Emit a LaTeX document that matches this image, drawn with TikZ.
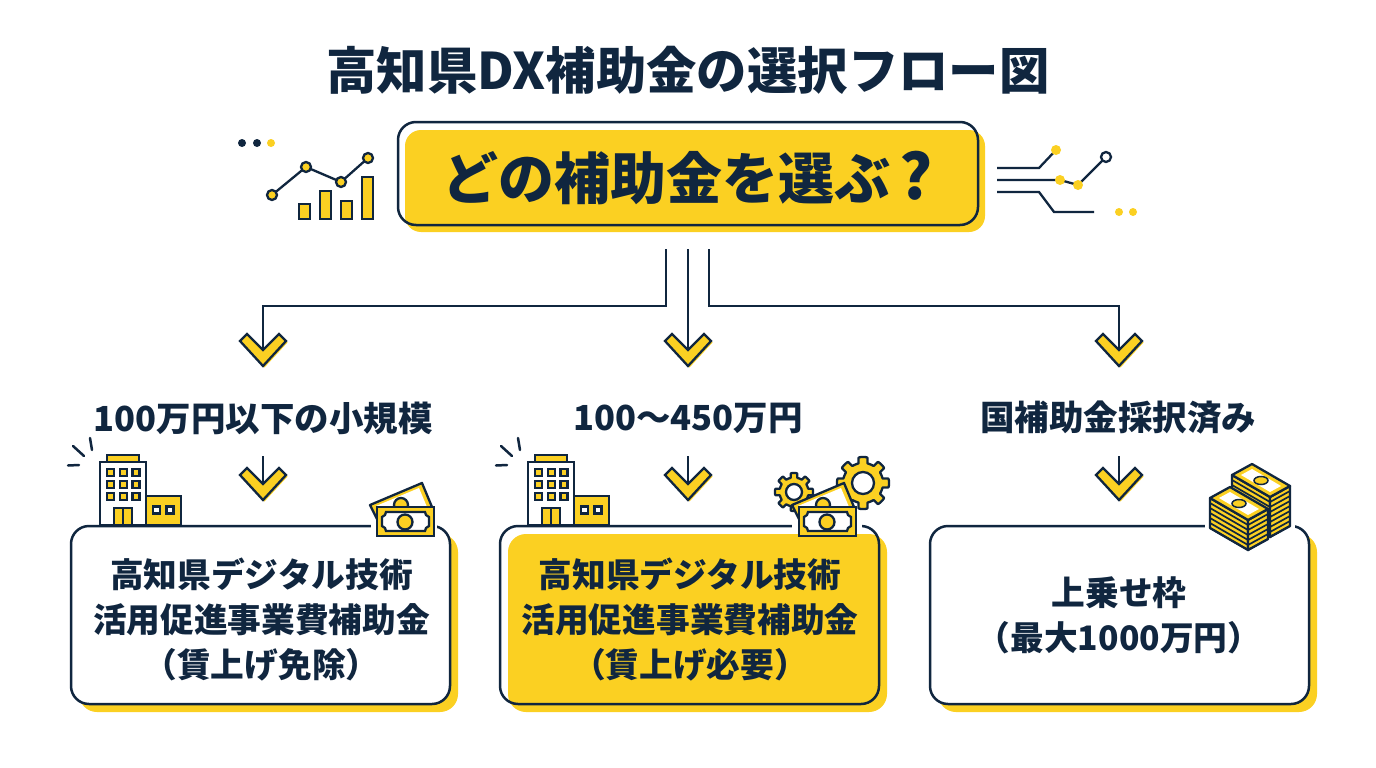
\documentclass[tikz,border=0pt]{standalone}
\usepackage{fontspec}
\setmainfont{Noto Sans CJK JP}
\definecolor{navy}{HTML}{10263F}
\definecolor{gold}{HTML}{FBD022}
\tikzset{
  x=1pt,y=-1pt,
  ink/.style={draw=navy,line width=2.5pt},
  thinink/.style={draw=navy,line width=2.3pt},
  link/.style={draw=navy,line width=2.5pt,line join=miter},
  titletext/.style={text=navy,font=\fontsize{50.4}{56}\selectfont\bfseries,inner sep=0pt},
  mainbox/.style={rounded corners=18pt,draw=navy,line width=2.5pt,minimum width=580pt,minimum height=103pt,inner sep=0pt},
  maintext/.style={text=navy,font=\fontsize{56}{60}\selectfont\bfseries,inner sep=0pt},
  optiontext/.style={text=navy,font=\fontsize{34.5}{40}\selectfont\bfseries,inner sep=0pt},
  cardbox/.style={rounded corners=18pt,draw=navy,line width=2.5pt,minimum width=379pt,minimum height=178pt,inner sep=0pt},
  cardtext/.style={text=navy,font=\fontsize{33.7}{45}\selectfont\bfseries,inner sep=0pt,align=center},
  cardshade/.style={fill=gold,rounded corners=18pt},
  pics/chevronmark/.style={code={
    \fill[gold] (-21,-7.5)--(-14,-14.5)--(1.5,1.5)--(16.5,-14.5)--(24.5,-7.5)--(1.5,17.5)--cycle;
    \draw[thinink,fill=gold,line join=miter] (-23,-9)--(-16,-16)--(0,0)--(16,-16)--(23,-9)--(0,16)--cycle;
  }},
  pics/officeblock/.style={code={
    \draw[thinink,fill=gold] (7,-7) rectangle (39,0);
    \draw[ink,fill=white] (0,0) rectangle (46,63);
    \foreach \cx in {10.7,23.3,36}{\foreach \cy in {10.7,22.7,34.7}{
      \draw[thinink,fill=gold] (\cx-3.5,\cy-3.5) rectangle (\cx+3.5,\cy+3.5);}}
    \draw[thinink,fill=gold] (14,46) rectangle (32,63);
    \draw[thinink] (23,46)--(23,63);
    \draw[ink,fill=gold] (46,34) rectangle (81,63);
    \draw[thinink,fill=white] (53,44.5) rectangle (60,51.5);
    \draw[thinink,fill=white] (66.5,44.5) rectangle (73.5,51.5);
    \draw[ink,line cap=round] (-32,3.5)--(-21,3);
    \draw[ink,line cap=round] (-27,-16)--(-16,-6);
    \draw[ink,line cap=round] (-10,-24)--(-8,-12);
  }},
  pics/banknote/.style={code={
    \draw[thinink,fill=gold,line join=round] (-7,-2)--(45,-24)--(55,0)--(55,12)--(2,16)--cycle;
    \fill[white] (-1,-1)--(42,-19)--(50,0)--(2,10)--cycle;
    \draw[thinink,fill=gold] (24,-2) circle (7);
    \draw[thinink,fill=gold] (0,0) rectangle (57,29);
    \draw[thinink,fill=white] (9,5)--(48,5)--(49,8)--(52,10)--(52,19)--(49,21)--(48,24)--(9,24)--(8,21)--(5,19)--(5,10)--(8,8)--cycle;
    \draw[thinink,fill=gold] (28,15) circle (7.5);
  }},
  pics/moneystack/.style={code={
    \draw[thinink,fill=gold,line join=round] (0,0)--(38,22)--(38,22+#1)--(0,#1)--cycle;
    \draw[thinink,fill=gold,line join=round] (38,22)--(58,11)--(58,11+#1)--(38,22+#1)--cycle;
    \foreach \k in {5,10,...,#1}{
      \draw[navy,line width=1.7pt] (0,\k)--(38,22+\k)--(58,11+\k);
    }
    \draw[thinink,fill=gold,line join=round] (0,0)--(20,-11)--(58,11)--(38,22)--cycle;
    \fill[white] (9,0)--(20,-6)--(49,11)--(38,17)--cycle;
    \draw[navy,line width=1.5pt,fill=gold] (29,5.5) ellipse [x radius=7,y radius=4];
  }},
  pics/gearwheel/.style args={#1/#2/#3}{code={
    \draw[thinink,fill=gold,line join=round] plot[samples=145,domain=0:360] (\x:{#1+#2*min(1,max(0,2.5*cos(8*\x)+0.5))}) -- cycle;
    \draw[thinink,fill=white] (0,0) circle (#3);
  }},
  chartdot/.style={thinink,fill=gold},
}
\begin{document}
\begin{tikzpicture}
\useasboundingbox[fill=white] (0,0) rectangle (1376,768);

% title
\node[titletext] (title) at (688,70) {高知県DX補助金の選択フロー図};

% main box
\fill[gold,rounded corners=16pt] (405,130) rectangle (985,232);
\node[mainbox] (main) at (688,173.5) {};
\node[maintext] (mainlabel) at (687.5,178) {どの補助金を選ぶ\hspace{9pt}{\fontsize{62}{62}\selectfont ?}};

% left chart icon
\fill[navy] (242,143) circle (4) (257,143) circle (4);
\fill[gold] (271,143) circle (4);
\draw[thinink] (272,195)--(306,167)--(341,182)--(368,158);
\foreach \px/\py in {272/195,306/167,341/182,368/158}{\draw[chartdot] (\px,\py) circle (5);}
\draw[thinink,fill=gold] (299,204) rectangle (310,219);
\draw[thinink,fill=gold] (320,191) rectangle (331,219);
\draw[thinink,fill=gold] (341,201) rectangle (352,219);
\draw[thinink,fill=gold] (362,177) rectangle (373,219);

% right network icon
\draw[thinink] (997,168)--(1039,168)--(1056,150);
\draw[thinink] (997,180)--(1060,180)--(1078,185)--(1106,157);
\draw[thinink] (997,192)--(1039,192)--(1054,212)--(1094,212);
\fill[gold] (1056,150) circle (5) (1060,180) circle (5) (1078,185) circle (5);
\draw[thinink,fill=white] (1106,157) circle (5);
\fill[gold] (1119,212) circle (4) (1133,212) circle (4);

% connectors, top
\coordinate (startA) at (666,249);
\coordinate (startB) at (688,249);
\coordinate (startC) at (709,249);
\coordinate (tipA) at (263,350);
\coordinate (tipB) at (688,350);
\coordinate (tipC) at (1119,350);
\coordinate (busA) at (263,306);
\coordinate (busC) at (1119,306);
\draw[link] (startA) |- (busA) -- (tipA);
\draw[link] (startB) -- (tipB);
\draw[link] (startC) |- (busC) -- (tipC);
\pic at (tipA) {chevronmark};
\pic at (tipB) {chevronmark};
\pic at (tipC) {chevronmark};

% options
\node[optiontext] (optA) at (263,418) {100万円以下の小規模};
\node[optiontext] (optB) at (688,418) {100〜450万円};
\node[optiontext] (optC) at (1118,418) {国補助金採択済み};

% connectors, lower
\coordinate (fromA) at (263,456);
\coordinate (fromB) at (688,456);
\coordinate (fromC) at (1119,456);
\coordinate (downA) at (263,484);
\coordinate (downB) at (688,484);
\coordinate (downC) at (1119,484);
\draw[link] (fromA) -- (downA);
\draw[link] (fromB) -- (downB);
\draw[link] (fromC) -- (downC);
\pic at (downA) {chevronmark};
\pic at (downB) {chevronmark};
\pic at (downC) {chevronmark};

% cards
\fill[cardshade] (79,534) rectangle (458,712);
\node[cardbox,fill=white] (cardA) at (260.5,615) {};
\node[cardtext] (labelA) at (261.5,620) {高知県デジタル技術\\活用促進事業費補助金\\（賃上げ免除）};
\fill[cardshade] (508,534) rectangle (887,712);
\node[cardbox] (cardB) at (689.5,615) {};
\node[cardtext] (labelB) at (690,620) {高知県デジタル技術\\活用促進事業費補助金\\（賃上げ必要）};
\fill[cardshade] (938,534) rectangle (1317,712);
\node[cardbox,fill=white] (cardC) at (1119.5,615) {};
\node[cardtext] (labelC) at (1119,615) {上乗せ枠\\（最大1000万円）};

% gaps in card tops
\fill[white] (371,522) rectangle (437,530);
\fill[white] (792,522) rectangle (862,530);
\fill[white] (1205,522) rectangle (1295,530);

% icons on cards
\pic at (100,462) {officeblock};
\pic at (528,462) {officeblock};
\pic at (377,507) {banknote};
\pic at (794,492) {gearwheel=14.5/4.5/8};
\pic at (863,483) {gearwheel=20/6/11};
\pic at (799,507) {banknote};
\pic at (1232,475) {moneystack=40};
\pic at (1210,498) {moneystack=30};
\end{tikzpicture}
\end{document}
